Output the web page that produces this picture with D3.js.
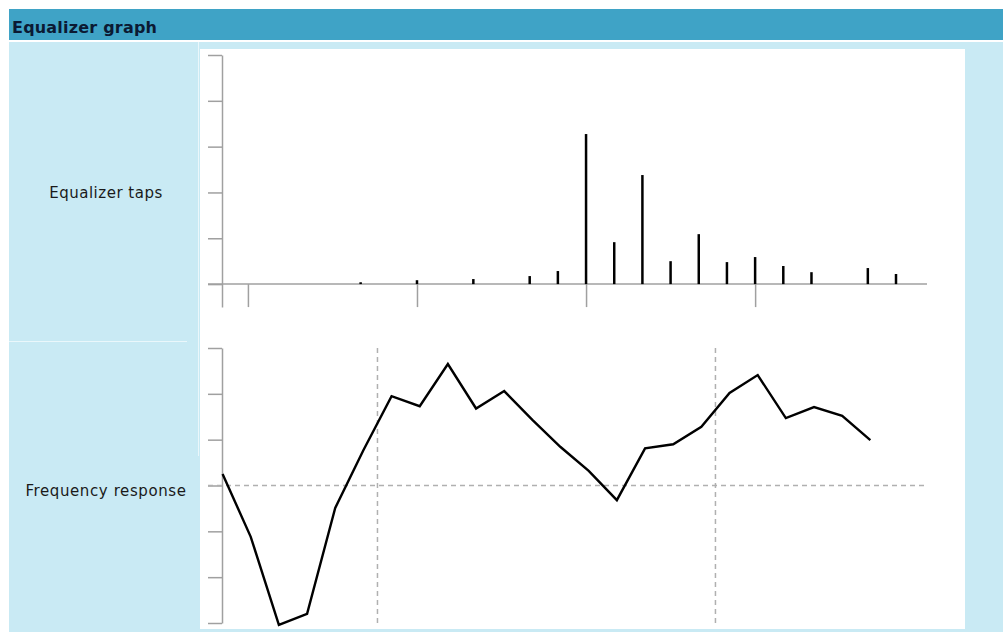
<!DOCTYPE html>
<html>
<head>
<meta charset="utf-8">
<script src="https://cdn.jsdelivr.net/npm/d3@7"></script>
<style>
  html, body { margin: 0; padding: 0; background: #ffffff; }
  svg { display: block; }
</style>
</head>
<body>
<svg id="chart" width="1003" height="632"></svg>
<script>
// ---------------- DATA ----------------
const title = "Equalizer graph";
const rowLabels = ["Equalizer taps", "Frequency response"];

// Equalizer taps (tap index -> magnitude)
const tapIndex  = [0, 1, 2, 3, 4, 5, 6, 7, 8, 9, 10, 11, 12, 13, 14, 15, 16, 17, 18, 19, 20, 21, 22, 23];
const tapValues = [0, 0, 0, 0, 0.008, 0, 0.017, 0, 0.022, 0, 0.035, 0.057, 0.655, 0.183, 0.476, 0.100, 0.218, 0.096, 0.118, 0.079, 0.052, 0, 0.070, 0.044];
const tapYTicks = [0, 0.2, 0.4, 0.6, 0.8, 1.0];
const tapXTicks = [0, 6, 12, 18];

// Frequency response (normalized frequency -> response)
const freq = [-0.9583, -0.875, -0.7917, -0.7083, -0.625, -0.5417, -0.4583, -0.375, -0.2917, -0.2083, -0.125, -0.0417,
              0.0417, 0.125, 0.2083, 0.2917, 0.375, 0.4583, 0.5417, 0.625, 0.7083, 0.7917, 0.875, 0.9583];
const response = [0.25, -1.12, -3.04, -2.80, -0.49, 0.77, 1.95, 1.73, 2.65, 1.68, 2.06, 1.43, 0.84, 0.32, -0.32, 0.81,
                  0.90, 1.28, 2.02, 2.41, 1.47, 1.71, 1.52, 0.99];
const respYTicks = [-3, -2, -1, 0, 1, 2, 3];
const freqGrid = [-0.5, 0.5];

// ---------------- LAYOUT ----------------
const svg = d3.select("#chart");
const C = {
  header: "#3fa3c6", panel: "#c9eaf4", white: "#ffffff", axis: "#a0a0a0",
  grid: "#b0b0b0", ink: "#000000", label: "#1a1a1a", titleInk: "#0b1a33"
};

// header bar
svg.append("rect").attr("x", 9).attr("y", 9).attr("width", 994).attr("height", 31).attr("fill", C.header);
svg.append("text").attr("x", 12).attr("y", 33)
  .attr("font-family", "DejaVu Sans, Verdana, sans-serif").attr("font-weight", "bold")
  .attr("font-size", 16).attr("letter-spacing", 0.2).attr("fill", C.titleInk).text(title);

// light blue panel
svg.append("rect").attr("x", 9).attr("y", 42).attr("width", 994).attr("height", 590).attr("fill", C.panel);
// white plotting region
svg.append("rect").attr("x", 200).attr("y", 49).attr("width", 765).attr("height", 580).attr("fill", C.white);
// cell separators
svg.append("line").attr("x1", 198.5).attr("x2", 198.5).attr("y1", 42).attr("y2", 456)
  .attr("stroke", "#eaf7fb").attr("stroke-width", 1);
svg.append("line").attr("x1", 9).attr("x2", 187).attr("y1", 341.5).attr("y2", 341.5)
  .attr("stroke", "#eaf7fb").attr("stroke-width", 1);

// row labels
const labelY = [193, 491];
const labelSpacing = [0.5, 0.6];
rowLabels.forEach((t, i) => {
  svg.append("text").attr("x", 106).attr("y", labelY[i]).attr("dy", "0.35em")
    .attr("text-anchor", "middle").attr("font-family", "DejaVu Sans, Verdana, sans-serif")
    .attr("font-size", 15).attr("letter-spacing", labelSpacing[i]).attr("fill", C.label).text(t);
});

// ---------------- TOP: taps ----------------
const xTap = d3.scaleLinear().domain([-0.92, 24.1]).range([222, 927]);
const yTap = d3.scaleLinear().domain([-0.1, 1.0]).range([307, 55]);

const gTop = svg.append("g");
const yAxT = gTop.append("g").attr("transform", `translate(${xTap(-0.92)},0)`)
  .call(d3.axisLeft(yTap).tickValues(tapYTicks).tickSize(14).tickSizeOuter(0).tickFormat(""));
const xAxT = gTop.append("g").attr("transform", `translate(0,${yTap(0)})`)
  .call(d3.axisBottom(xTap).tickValues(tapXTicks).tickSize(23).tickSizeOuter(0).tickFormat(""));
xAxT.select(".domain").remove();
gTop.append("line").attr("x1", xTap(-0.92) - 14).attr("x2", xTap(24.1))
  .attr("y1", yTap(0)).attr("y2", yTap(0)).attr("stroke", C.axis).attr("stroke-width", 1.5);
[yAxT, xAxT].forEach(g => {
  g.selectAll("path,line").attr("stroke", C.axis).attr("stroke-width", 1.5);
});

// stems
gTop.append("g").selectAll("line.stem")
  .data(tapIndex.map((k, i) => ({ k, v: tapValues[i] })).filter(d => d.v > 0))
  .join("line").attr("class", "stem")
  .attr("x1", d => xTap(d.k)).attr("x2", d => xTap(d.k))
  .attr("y1", yTap(0)).attr("y2", d => yTap(d.v))
  .attr("stroke", C.ink).attr("stroke-width", 2.5);

// ---------------- BOTTOM: frequency response ----------------
const xF = d3.scaleLinear().domain([-0.96, 1.12]).range([222, 925]);
const yF = d3.scaleLinear().domain([-3, 3]).range([623, 348]);

const gBot = svg.append("g");
const yAxB = gBot.append("g").attr("transform", `translate(${xF(-0.96)},0)`)
  .call(d3.axisLeft(yF).tickValues(respYTicks).tickSize(14).tickSizeOuter(0).tickFormat(""));
yAxB.selectAll("path,line").attr("stroke", C.axis).attr("stroke-width", 1.5);

gBot.append("line").attr("x1", xF(-0.96) - 14).attr("x2", xF(1.12))
  .attr("y1", yF(0)).attr("y2", yF(0))
  .attr("stroke", C.grid).attr("stroke-width", 1.5).attr("stroke-dasharray", "5,4");
gBot.selectAll("line.vgrid").data(freqGrid).join("line").attr("class", "vgrid")
  .attr("x1", d => xF(d)).attr("x2", d => xF(d))
  .attr("y1", yF(3)).attr("y2", yF(-3) + 3)
  .attr("stroke", C.grid).attr("stroke-width", 1.5).attr("stroke-dasharray", "5,4");

const line = d3.line().x((d, i) => xF(freq[i])).y(d => yF(d));
gBot.append("path").datum(response).attr("d", line)
  .attr("fill", "none").attr("stroke", C.ink).attr("stroke-width", 2.4)
  .attr("stroke-linejoin", "miter");
</script>
</body>
</html>
